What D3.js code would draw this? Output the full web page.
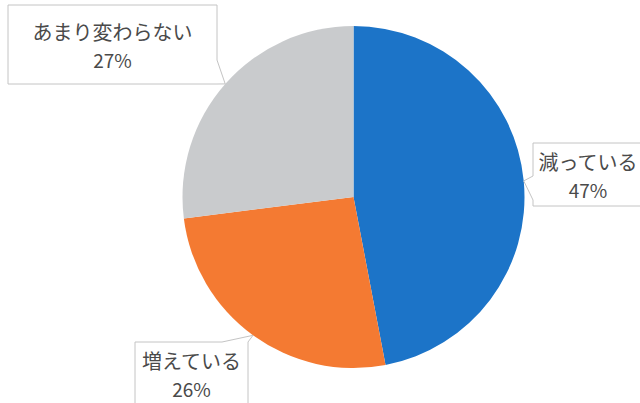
<!DOCTYPE html>
<html>
<head>
<meta charset="utf-8">
<script src="https://cdn.jsdelivr.net/npm/d3@7"></script>
<style>
  html, body { margin: 0; padding: 0; background: #ffffff; }
  svg { display: block; }
</style>
</head>
<body>
<svg id="chart" width="640" height="403"></svg>
<script>
// Survey answers, drawn clockwise from 12 o'clock
const categories = ["減っている", "増えている", "あまり変わらない"];
const shares = [47, 26, 27];
const percentLabels = ["47%", "26%", "27%"];

const colors = ["#1c74c8", "#f47a32", "#c9cbcd"];

const width = 640, height = 403;
const cx = 353.5, cy = 197, radius = 171;

// Callout boxes: rectangle and the side its pointer leaves from
const callouts = [
  { x0: 533, y0: 143, x1: 645, y1: 206, side: "left",  b0: 176, b1: 200 },
  { x0: 135, y0: 342, x1: 248, y1: 405, side: "top",   b0: 222, b1: 248 },
  { x0: 8,   y0: 5,   x1: 217, y1: 84,  side: "right", b0: 60,  b1: 84 }
];

const svg = d3.select("#chart");

const pie = d3.pie().sort(null).value(d => d)(shares);
const arc = d3.arc().innerRadius(0).outerRadius(radius);

const g = svg.append("g").attr("transform", `translate(${cx},${cy})`);
g.selectAll("path.slice")
  .data(pie)
  .join("path")
  .attr("class", "slice")
  .attr("d", arc)
  .attr("fill", (d, i) => colors[i]);

// Pointer tip sits on the rim at the middle of each slice
function tipOf(d) {
  const a = (d.startAngle + d.endAngle) / 2;
  return [cx + radius * Math.sin(a), cy - radius * Math.cos(a)];
}

function calloutPath(c, tip) {
  const p = d3.path();
  const { x0, y0, x1, y1, side, b0, b1 } = c;
  p.moveTo(x0, y0);
  if (side === "top") {
    p.lineTo(b0, y0); p.lineTo(tip[0], tip[1]); p.lineTo(b1, y0);
  }
  p.lineTo(x1, y0);
  if (side === "right") {
    p.lineTo(x1, b0); p.lineTo(tip[0], tip[1]); p.lineTo(x1, b1);
  }
  p.lineTo(x1, y1);
  p.lineTo(x0, y1);
  if (side === "left") {
    p.lineTo(x0, b1); p.lineTo(tip[0], tip[1]); p.lineTo(x0, b0);
  }
  p.closePath();
  return p.toString();
}

const labels = svg.append("g");
pie.forEach((d, i) => {
  const c = callouts[i];
  const tip = tipOf(d);
  labels.append("path")
    .attr("d", calloutPath(c, tip))
    .attr("fill", "#ffffff")
    .attr("stroke", "#c4c4c4")
    .attr("stroke-width", 1);
  const mx = (c.x0 + Math.min(c.x1, width + 3)) / 2;
  const my = (c.y0 + c.y1) / 2;
  labels.append("text")
    .attr("x", mx).attr("y", my - 5)
    .attr("text-anchor", "middle")
    .attr("font-family", "'Noto Sans CJK JP', 'Noto Sans', sans-serif")
    .attr("font-size", 20)
    .attr("fill", "#4a4a4a")
    .text(categories[i]);
  labels.append("text")
    .attr("x", mx).attr("y", my + 23)
    .attr("text-anchor", "middle")
    .attr("font-family", "'Noto Sans CJK JP', 'Noto Sans', sans-serif")
    .attr("font-size", 19)
    .attr("fill", "#4a4a4a")
    .text(percentLabels[i]);
});
</script>
</body>
</html>
